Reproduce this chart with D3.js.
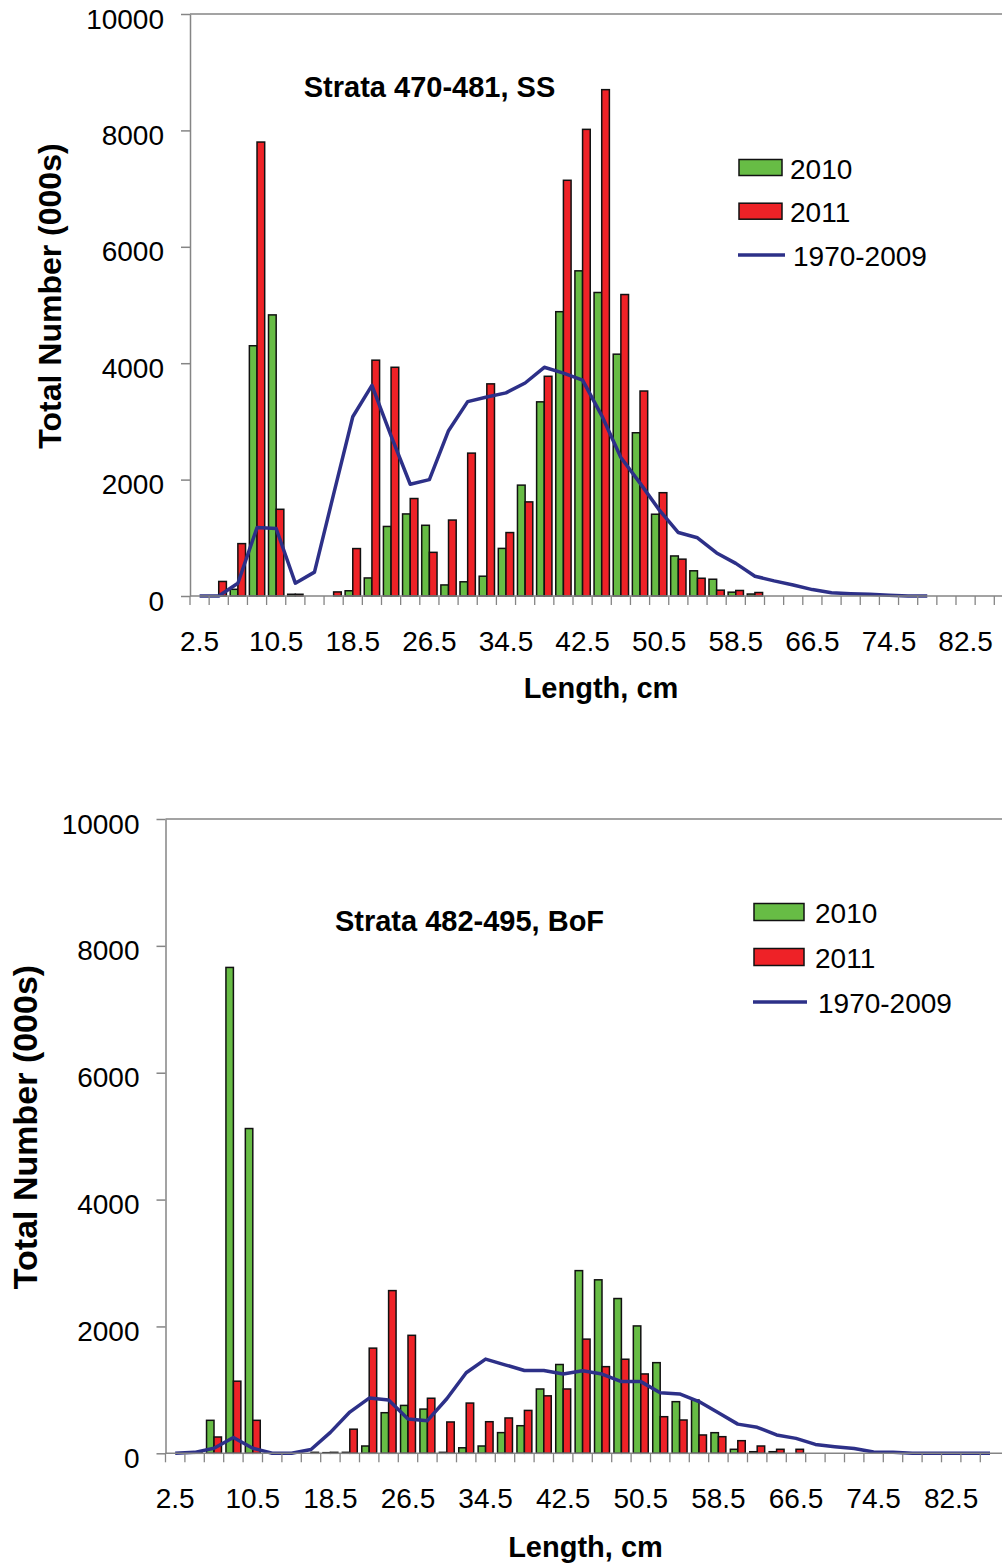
<!DOCTYPE html>
<html>
<head>
<meta charset="utf-8">
<script src="https://cdn.jsdelivr.net/npm/d3@7/dist/d3.min.js"></script>
<style>
  body { margin: 0; background: #fff; }
  text { font-family: "Liberation Sans", Arial, sans-serif; fill: #000; }
</style>
</head>
<body>
<svg id="chart" width="1002" height="1568"></svg>
<script>
// length classes (cm)
const lengths = ['2.5', '4.5', '6.5', '8.5', '10.5', '12.5', '14.5', '16.5', '18.5', '20.5',
  '22.5', '24.5', '26.5', '28.5', '30.5', '32.5', '34.5', '36.5', '38.5', '40.5',
  '42.5', '44.5', '46.5', '48.5', '50.5', '52.5', '54.5', '56.5', '58.5', '60.5',
  '62.5', '64.5', '66.5', '68.5', '70.5', '72.5', '74.5', '76.5', '78.5', '80.5',
  '82.5', '84.5', '86.5'];
const xLabels = ['2.5', '10.5', '18.5', '26.5', '34.5', '42.5', '50.5', '58.5', '66.5', '74.5', '82.5'];
const yTicks = [0, 2000, 4000, 6000, 8000, 10000];
const seriesNames = ['2010', '2011', '1970-2009'];

// Strata 470-481, SS
const ss2010 = [0, 0, 115, 4300, 4830, 30, 0, 0, 90, 310, 1195, 1410, 1215, 190, 244, 340, 818, 1905, 3336, 4885,
  5587, 5215, 4155, 2805, 1405, 688, 433, 288, 66, 34, 0, 0, 0, 0, 0, 0, 0, 0, 0, 0, 0, 0, 0];
const ss2011 = [0, 250, 900, 7800, 1490, 30, 0, 70, 815, 4052, 3930, 1675, 750, 1305, 2455, 3645, 1090, 1617, 3775, 7143,
  8018, 8700, 5180, 3522, 1775, 633, 305, 100, 95, 60, 0, 0, 0, 0, 0, 0, 0, 0, 0, 0, 0, 0, 0];
const ss7009 = [0, 0, 220, 1175, 1160, 220, 410, 1750, 3080, 3620, 2750, 1920, 2000, 2840, 3340, 3420, 3490, 3660, 3930, 3830,
  3710, 3100, 2380, 1940, 1480, 1090, 1000, 740, 560, 340, 260, 190, 110, 55, 40, 30, 15, 0, 0, null, null, null, null];

// Strata 482-495, BoF
const bof2010 = [0, 15, 520, 7660, 5120, 0, 0, 0, 10, 15, 115, 640, 755, 697, 15, 87, 115, 326, 435, 1014,
  1400, 2880, 2735, 2440, 2008, 1429, 814, 841, 325, 63, 25, 25, 0, 0, 0, 0, 0, 0, 0, 0, 0, 0, 0];
const bof2011 = [0, 15, 257, 1137, 520, 0, 0, 15, 15, 380, 1658, 2565, 1860, 868, 494, 792, 498, 557, 676, 906,
  1014, 1800, 1366, 1483, 1251, 577, 525, 289, 262, 199, 115, 63, 63, 0, 0, 0, 0, 0, 0, 0, 0, 0, 0];
const bof7009 = [0, 15, 80, 250, 80, 0, 0, 60, 330, 650, 870, 840, 540, 515, 860, 1270, 1485, 1395, 1305, 1305,
  1250, 1300, 1250, 1130, 1130, 955, 935, 815, 640, 460, 410, 290, 235, 140, 105, 75, 20, 15, 0, 0, 0, 0, 0];

const colors = { g: '#67bc45', r: '#ee2227', line: '#2d3088', axis: '#858585' };
const W = 1002;
const svg = d3.select('#chart');

const panels = [
  {
    title: 'Strata 470-481, SS', s10: ss2010, s11: ss2011, hist: ss7009,
    left: 190, top: 14, bottom: 596, step: 19.15, pad: 0.25,
    titleX: 429.5, titleY: 96.5, titleSize: 29,
    yTitleX: 61, yTitleY: 296, yTitleSize: 32,
    xTitleX: 601, xTitleY: 698,
    legend: { x: 739, y: 167.5, gap: 43.7, sw: 43, sh: 16, tx: 790 }
  },
  {
    title: 'Strata 482-495, BoF', s10: bof2010, s11: bof2011, hist: bof7009,
    left: 165.5, top: 819, bottom: 1453.3, step: 19.4, pad: 0.3,
    titleX: 469.5, titleY: 930.5, titleSize: 29,
    yTitleX: 37, yTitleY: 1127, yTitleSize: 34,
    xTitleX: 585.5, xTitleY: 1557,
    legend: { x: 754, y: 912, gap: 45, sw: 50, sh: 17, tx: 815 }
  }
];

panels.forEach(function(p) {
  const g = svg.append('g');

  const x0 = d3.scaleBand()
    .domain(lengths)
    .range([p.left, p.left + p.step * lengths.length])
    .padding(0);
  const x1 = d3.scaleBand()
    .domain(['g', 'r'])
    .range([0, x0.bandwidth()])
    .paddingInner(0)
    .paddingOuter(p.pad);
  const y = d3.scaleLinear().domain([0, 10000]).range([p.bottom, p.top]);

  // top border of plot area
  g.append('line')
    .attr('x1', p.left).attr('x2', W)
    .attr('y1', y(10000)).attr('y2', y(10000))
    .attr('stroke', colors.axis).attr('stroke-width', 1.5);

  // bars
  const rows = lengths.map((c, i) => ({ c: c, g: p.s10[i], r: p.s11[i] }));
  ['g', 'r'].forEach(function(k) {
    g.append('g').selectAll('rect')
      .data(rows.filter(d => d[k] > 0))
      .enter().append('rect')
      .attr('x', d => x0(d.c) + x1(k))
      .attr('width', x1.bandwidth())
      .attr('y', d => y(d[k]))
      .attr('height', d => y(0) - y(d[k]))
      .attr('fill', colors[k])
      .attr('stroke', '#111')
      .attr('stroke-width', 1.5);
  });

  // 1970-2009 mean line
  const line = d3.line()
    .defined(d => d.v !== null)
    .x(d => x0(d.c) + x0.bandwidth() / 2)
    .y(d => y(d.v));
  g.append('path')
    .datum(lengths.map((c, i) => ({ c: c, v: p.hist[i] })))
    .attr('d', line)
    .attr('fill', 'none')
    .attr('stroke', colors.line)
    .attr('stroke-width', 3.5)
    .attr('stroke-linejoin', 'round');

  // y axis
  const yAxis = g.append('g')
    .attr('transform', 'translate(' + p.left + ',0)')
    .call(d3.axisLeft(y).tickValues(yTicks).tickFormat(d3.format('d'))
      .tickSize(9).tickSizeOuter(0).tickPadding(17));
  yAxis.attr('font-size', 28).attr('font-family', '"Liberation Sans", Arial, sans-serif');
  yAxis.selectAll('text').attr('dy', '0.5em');
  yAxis.selectAll('line, path').attr('stroke', colors.axis).attr('stroke-width', 1.5);

  // x axis: labels every 4th class, tick marks on class boundaries
  const xAxis = g.append('g')
    .attr('transform', 'translate(0,' + p.bottom + ')')
    .call(d3.axisBottom(x0).tickValues(xLabels).tickSize(0).tickSizeOuter(0));
  xAxis.attr('font-size', 28).attr('font-family', '"Liberation Sans", Arial, sans-serif');
  xAxis.selectAll('text').attr('y', 55).attr('dy', null);
  xAxis.select('.domain')
    .attr('d', 'M' + p.left + ',0H' + W)
    .attr('stroke', colors.axis).attr('stroke-width', 1.5);
  xAxis.append('g').selectAll('line')
    .data(lengths)
    .enter().append('line')
    .attr('x1', d => x0(d)).attr('x2', d => x0(d))
    .attr('y1', 0).attr('y2', 9)
    .attr('stroke', colors.axis).attr('stroke-width', 1.3);

  // titles
  g.append('text')
    .attr('x', p.titleX).attr('y', p.titleY)
    .attr('text-anchor', 'middle')
    .attr('font-weight', 'bold').attr('font-size', p.titleSize)
    .text(p.title);
  g.append('text')
    .attr('transform', 'translate(' + p.yTitleX + ',' + p.yTitleY + ') rotate(-90)')
    .attr('text-anchor', 'middle')
    .attr('font-weight', 'bold').attr('font-size', p.yTitleSize)
    .text('Total Number (000s)');
  g.append('text')
    .attr('x', p.xTitleX).attr('y', p.xTitleY)
    .attr('text-anchor', 'middle')
    .attr('font-weight', 'bold').attr('font-size', 29)
    .text('Length, cm');

  // legend
  const L = p.legend;
  const lg = g.append('g');
  seriesNames.forEach(function(name, i) {
    const cy = L.y + i * L.gap;
    if (i < 2) {
      lg.append('rect')
        .attr('x', L.x).attr('y', cy - L.sh / 2)
        .attr('width', L.sw).attr('height', L.sh)
        .attr('fill', i === 0 ? colors.g : colors.r)
        .attr('stroke', '#111').attr('stroke-width', 1.5);
    } else {
      lg.append('line')
        .attr('x1', L.x - 1).attr('x2', L.x + L.sw + 3)
        .attr('y1', cy).attr('y2', cy)
        .attr('stroke', colors.line).attr('stroke-width', 3.5);
    }
    lg.append('text')
      .attr('x', i < 2 ? L.tx : L.tx + 3).attr('y', cy + 11)
      .attr('font-size', 28)
      .text(name);
  });
});
</script>
</body>
</html>
